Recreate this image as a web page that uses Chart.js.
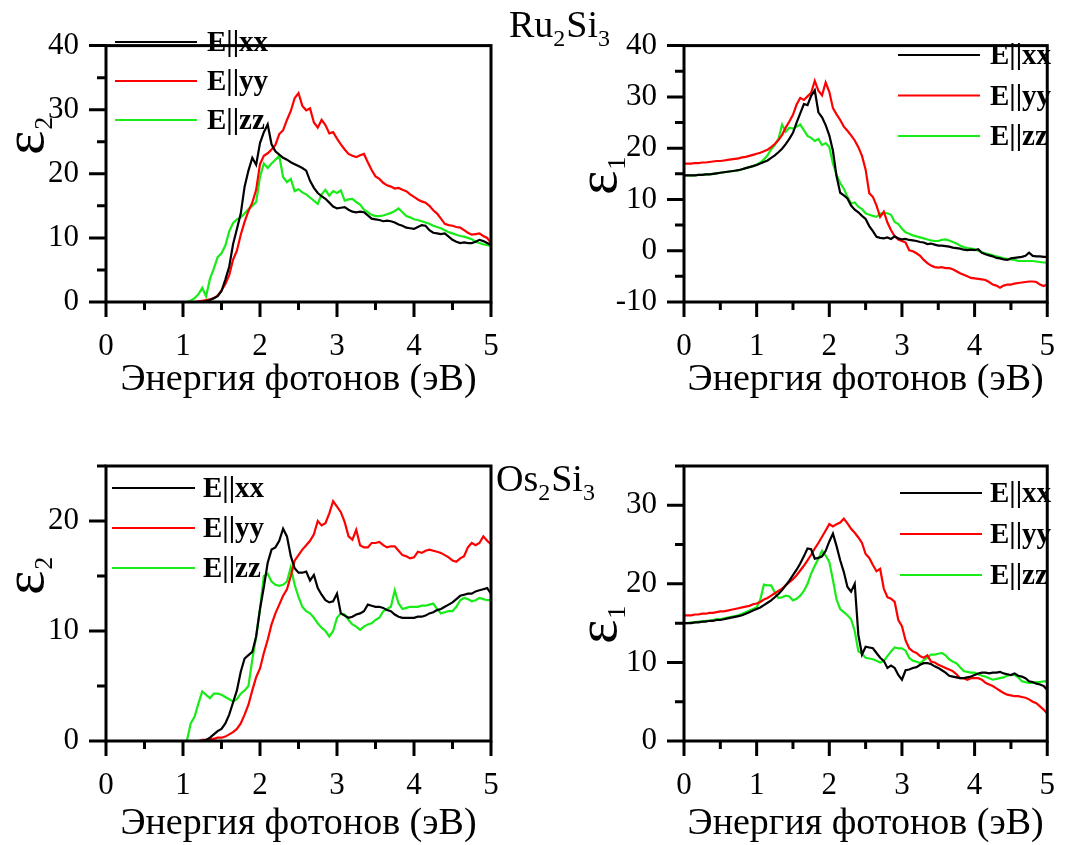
<!DOCTYPE html>
<html>
<head>
<meta charset="utf-8">
<script src="https://cdn.jsdelivr.net/npm/chart.js@4.4.1/dist/chart.umd.min.js"></script>
<style>
  html, body { margin: 0; padding: 0; background: #fff; overflow: hidden; }
  #wrap { position: relative; width: 1081px; height: 845px; }
  #wrap canvas { position: absolute; left: 0; top: 0; }
</style>
</head>
<body>
<div id="wrap">
  <canvas id="c1" width="1081" height="845"></canvas>
  <canvas id="c2" width="1081" height="845"></canvas>
  <canvas id="c3" width="1081" height="845"></canvas>
  <canvas id="c4" width="1081" height="845"></canvas>
</div>
<script>
// photon energy grid (eV)
const energy = [
  0, 0.05, 0.1, 0.15, 0.2, 0.25, 0.3, 0.35, 0.4, 0.45,
  0.5, 0.55, 0.6, 0.65, 0.7, 0.75, 0.8, 0.85, 0.9, 0.95,
  1, 1.05, 1.1, 1.15, 1.2, 1.25, 1.3, 1.35, 1.4, 1.45,
  1.5, 1.55, 1.6, 1.65, 1.7, 1.75, 1.8, 1.85, 1.9, 1.95,
  2, 2.05, 2.1, 2.15, 2.2, 2.25, 2.3, 2.35, 2.4, 2.45,
  2.5, 2.55, 2.6, 2.65, 2.7, 2.75, 2.8, 2.85, 2.9, 2.95,
  3, 3.05, 3.1, 3.15, 3.2, 3.25, 3.3, 3.35, 3.4, 3.45,
  3.5, 3.55, 3.6, 3.65, 3.7, 3.75, 3.8, 3.85, 3.9, 3.95,
  4, 4.05, 4.1, 4.15, 4.2, 4.25, 4.3, 4.35, 4.4, 4.45,
  4.5, 4.55, 4.6, 4.65, 4.7, 4.75, 4.8, 4.85, 4.9, 4.95,
  5
];

const seriesNames = ['E||xx', 'E||yy', 'E||zz'];
const xTicks = [0, 1, 2, 3, 4, 5];
const ruEps2Ticks = [0, 10, 20, 30, 40];
const ruEps1Ticks = [-10, 0, 10, 20, 30, 40];
const osEps2Ticks = [0, 10, 20];
const osEps1Ticks = [0, 10, 20, 30];

// Ru2Si3, eps2
const ruEps2Xx = [
  0, 0, 0, 0, 0, 0, 0, 0, 0, 0,
  0, 0, 0, 0, 0, 0, 0, 0, 0, 0,
  0, 0, 0, 0, 0, 0, 0.1, 0.3, 0.6, 0.9,
  1.7, 3.5, 5.5, 9, 11.4, 13.8, 18, 20.5, 22.5, 21.4,
  24.8, 26.5, 27.7, 24.6, 23.5, 23, 22.5, 22.2, 21.8, 21.5,
  21.2, 20.9, 20.5, 18.9, 17.8, 17, 16.5, 16.1, 15.5, 14.9,
  14.6, 14.7, 14.8, 14.4, 14.1, 14.0, 14.1, 14.0, 13.5, 13.0,
  12.9, 12.8, 12.6, 12.7, 12.6, 12.4, 12.1, 11.9, 11.6, 11.5,
  11.4, 11.7, 12.0, 11.9, 11.2, 10.8, 10.7, 10.6, 10.7, 10.2,
  9.7, 9.4, 9.2, 9.3, 9.2, 9.2, 9.4, 9.7, 9.5, 9.2,
  8.9
];
const ruEps2Yy = [
  0, 0, 0, 0, 0, 0, 0, 0, 0, 0,
  0, 0, 0, 0, 0, 0, 0, 0, 0, 0,
  0, 0, 0, 0, 0.1, 0.2, 0.3, 0.4, 0.6, 1.0,
  1.8, 2.8, 4.2, 6.6, 8.0, 10.5, 12.5, 14.2, 15.5, 17.5,
  21.5, 22.8, 23.2, 23.8, 24.5, 26.2, 26.8, 28.4, 29.8, 31.8,
  32.6, 30.6, 29.9, 30.2, 28.0, 27.2, 28.4, 27.6, 26.3, 26.5,
  25.5, 24.6, 23.8, 23.1, 22.8, 22.6, 22.9, 23.1, 21.8, 20.6,
  19.6, 19.2, 18.6, 18.2, 18.0, 17.7, 17.8, 17.5, 17.3, 16.8,
  16.4, 16.0, 15.7, 15.5, 15.0, 14.3, 13.8, 13.0, 12.2, 12.0,
  11.9, 11.7, 11.6, 11.2, 10.8, 10.5, 10.6, 10.7, 10.3, 10.0,
  9.2
];
const ruEps2Zz = [
  0, 0, 0, 0, 0, 0, 0, 0, 0, 0,
  0, 0, 0, 0, 0, 0, 0, 0, 0, 0,
  0, 0, 0.2, 0.6, 1.2, 2.2, 0.9, 3.6, 5.2, 7.0,
  7.6, 8.8, 11.0, 12.3, 12.9, 13.2, 13.8, 14.5, 15.0, 15.6,
  19.5, 21.6, 20.9, 21.6, 22.2, 22.8, 19.5, 18.7, 19.2, 17.3,
  17.6, 17.1, 16.8, 16.3, 15.8, 15.3, 16.8, 17.5, 16.6, 17.3,
  17.0, 17.4, 15.8, 16.0, 16.1, 15.6, 15.2, 14.4, 14.0, 13.6,
  13.4, 13.4, 13.5, 13.7, 13.9, 14.2, 14.6, 14.0, 13.4, 13.2,
  12.9, 12.8, 12.6, 12.4, 12.2, 11.9, 11.7, 11.5, 11.2, 10.9,
  10.7, 10.5, 10.3, 10.2, 10.0, 9.8, 9.4, 9.2, 9.0, 8.9,
  8.7
];

// Ru2Si3, eps1
const ruEps1Xx = [
  14.7, 14.7, 14.7, 14.7, 14.8, 14.8, 14.9, 14.9, 15.0, 15.1,
  15.2, 15.3, 15.4, 15.5, 15.6, 15.7, 15.9, 16.1, 16.3, 16.5,
  16.7, 17.0, 17.3, 17.6, 18.1, 18.6, 19.2, 19.9, 20.8, 21.8,
  23.0, 25.0, 26.8, 28.6, 28.4, 30.2, 31.3, 27.0, 26.0, 24.5,
  22.5, 19.5, 14.5, 11.3, 10.8, 10.2, 8.8, 8.0, 7.5, 6.8,
  6.2, 4.8, 3.8, 2.7, 2.5, 2.4, 2.6, 2.3, 2.8, 2.4,
  2.2, 2.3, 2.1, 2.0, 1.9, 1.7, 1.6, 1.3, 1.4, 1.2,
  1.0, 1.0, 0.9, 0.8, 0.6, 0.5, 0.4, 0.2, 0.1, 0.2,
  0.1, 0.3, -0.4, -0.7, -0.9, -1.1, -1.4, -1.5, -1.7, -1.8,
  -1.5, -1.4, -1.3, -1.2, -1.0, -0.4, -1.0, -1.1, -1.1, -1.2,
  -1.2
];
const ruEps1Yy = [
  17.0, 17.0, 17.0, 17.1, 17.1, 17.2, 17.2, 17.3, 17.4, 17.5,
  17.5, 17.6, 17.7, 17.8, 17.9, 18.0, 18.2, 18.3, 18.5, 18.7,
  18.9, 19.1, 19.4, 19.7, 20.2, 20.8, 21.6, 22.6, 24.0, 25.2,
  26.5, 28.5, 29.8, 29.4, 30.1, 30.8, 33.1, 31.2, 30.3, 32.8,
  31.0, 27.8, 26.6, 25.5, 24.2, 23.4, 22.5, 21.5, 20.2, 18.5,
  15.8, 11.2, 10.5, 8.8, 6.6, 7.6, 5.5, 4.0, 2.8, 2.2,
  1.9, 1.6, 0.1, -0.1, -0.5, -1.0, -1.8, -2.4, -2.9, -3.2,
  -3.3, -3.2, -3.4, -3.4, -3.6, -4.0, -4.4, -4.7, -5.0, -5.3,
  -5.4, -5.5, -5.6, -5.7, -6.1, -6.6, -6.8, -7.2, -6.8, -6.6,
  -6.6, -6.4, -6.3, -6.2, -6.1, -6.0, -6.0, -6.1, -6.6, -6.9,
  -6.6
];
const ruEps1Zz = [
  14.7, 14.7, 14.7, 14.7, 14.8, 14.8, 14.9, 14.9, 15.0, 15.1,
  15.2, 15.3, 15.4, 15.5, 15.6, 15.7, 15.9, 16.1, 16.3, 16.5,
  16.8, 17.2, 17.8, 18.6, 19.8, 20.6, 21.8, 24.6, 23.2, 24.0,
  23.8, 24.2, 24.6, 23.5, 22.4, 22.0, 21.4, 21.8, 20.6, 21.0,
  20.2, 17.0, 14.8, 13.2, 12.1, 10.5, 9.2, 9.4, 8.6, 8.1,
  7.3, 7.0, 6.8, 6.6, 7.2, 7.4, 7.3, 7.0, 5.6, 5.2,
  4.3, 3.6, 3.3, 3.0, 2.8, 2.6, 2.4, 2.2, 2.0, 1.9,
  1.9, 2.1, 2.2, 2.0, 1.7, 1.4, 1.0, 0.7, 0.5, 0.4,
  0.3, 0.0, -0.3, -0.5, -0.7, -0.9, -1.1, -1.3, -1.5, -1.6,
  -1.7, -1.8, -2.0, -2.0, -2.0, -2.0, -2.0, -2.1, -2.2, -2.3,
  -2.3
];

// Os2Si3, eps2
const osEps2Xx = [
  0, 0, 0, 0, 0, 0, 0, 0, 0, 0,
  0, 0, 0, 0, 0, 0, 0, 0, 0, 0,
  0, 0, 0, 0, 0, 0, 0.1, 0.3, 0.6, 0.9,
  1.1, 1.6, 2.4, 3.5, 4.6, 6.3, 7.5, 7.8, 8.1, 9.5,
  12.0, 14.0, 16.2, 17.4, 17.6, 18.2, 19.3, 18.6, 16.8, 15.7,
  15.3, 15.3, 15.4, 14.6, 15.1, 13.9, 13.3, 12.8, 12.6, 12.7,
  13.4, 11.6, 11.4, 11.2, 11.3, 11.5, 11.6, 11.8, 12.4, 12.3,
  12.2, 12.2, 12.1, 11.9, 11.8, 11.5, 11.3, 11.2, 11.2, 11.2,
  11.2, 11.3, 11.3, 11.4, 11.6, 11.7, 11.9, 12.0, 12.2, 12.4,
  12.6, 12.9, 13.2, 13.3, 13.4, 13.4, 13.6, 13.7, 13.8, 13.9,
  13.4
];
const osEps2Yy = [
  0, 0, 0, 0, 0, 0, 0, 0, 0, 0,
  0, 0, 0, 0, 0, 0, 0, 0, 0, 0,
  0, 0, 0, 0, 0, 0.1, 0.1, 0.2, 0.2, 0.3,
  0.3, 0.4, 0.6, 0.8, 1.1, 1.6, 2.4, 3.3, 4.6, 5.8,
  6.6, 8.0, 9.2, 10.6, 11.6, 12.4, 13.2, 13.8, 15.0, 16.4,
  16.9, 17.4, 17.8, 18.2, 18.8, 20.0, 19.6, 19.8, 20.7, 21.8,
  21.3, 20.8, 19.9, 18.6, 18.3, 19.2, 17.8, 17.6, 17.6, 18.0,
  18.0, 18.1, 17.8, 17.6, 17.7, 17.7, 17.3, 16.9, 16.8, 16.6,
  16.7, 17.2, 17.1, 17.3, 17.4, 17.3, 17.2, 17.1, 16.9, 16.7,
  16.4, 16.3, 16.6, 16.8, 17.6, 18.0, 17.8, 18.0, 18.6, 18.2,
  17.9
];
const osEps2Zz = [
  0, 0, 0, 0, 0, 0, 0, 0, 0, 0,
  0, 0, 0, 0, 0, 0, 0, 0, 0, 0,
  0, 0, 1.6, 2.2, 3.4, 4.5, 4.2, 3.9, 4.3, 4.3,
  4.2, 4.0, 3.8, 3.6, 3.8, 4.3, 4.6, 5.0, 7.4, 9.5,
  12.0, 15.0, 15.2, 14.5, 14.2, 14.1, 14.2, 14.5, 15.8, 14.2,
  13.1, 12.2, 11.8, 11.6, 11.2, 10.7, 10.3, 10.0, 9.5, 10.0,
  11.2, 11.6, 11.5, 11.0, 10.6, 10.4, 10.1, 10.4, 10.6, 10.7,
  11.0, 11.2, 11.8, 12.0, 12.2, 13.7, 12.5, 12.0, 12.1, 12.2,
  12.2, 12.2, 12.3, 12.3, 12.4, 12.5, 12.0, 11.6, 11.7, 11.8,
  11.8, 12.2, 12.8, 13.0, 12.9, 12.7, 12.8, 13.0, 12.9, 12.8,
  12.8
];

// Os2Si3, eps1
const osEps1Xx = [
  15.0, 15.0, 15.0, 15.1, 15.1, 15.2, 15.2, 15.3, 15.3, 15.4,
  15.4, 15.5, 15.6, 15.7, 15.8, 15.9, 16.0, 16.2, 16.4, 16.6,
  16.8, 17.0, 17.3, 17.6, 17.9, 18.3, 18.7, 19.2, 19.8, 20.4,
  21.1, 21.8, 22.6, 23.5, 24.5, 24.4, 23.2, 23.3, 23.5, 24.2,
  25.4, 26.4, 24.8, 23.0, 21.5, 19.6, 19.0, 20.0, 13.5, 11.0,
  12.0, 11.9, 11.8, 11.2, 10.6, 10.2, 9.3, 9.6, 9.3, 8.4,
  7.8, 9.0, 9.1, 9.3, 9.4, 9.7, 9.9, 9.9, 9.8, 9.5,
  9.3, 9.0, 8.7, 8.3, 8.2, 8.1, 8.0, 8.0, 8.1, 8.2,
  8.4, 8.6, 8.7, 8.7, 8.6, 8.7, 8.7, 8.8, 8.6, 8.5,
  8.4, 8.6, 8.3, 8.2, 8.0, 7.6, 7.5, 7.3, 7.2, 7.0,
  6.5
];
const osEps1Yy = [
  16.0, 16.0, 16.0, 16.1, 16.1, 16.2, 16.2, 16.3, 16.3, 16.4,
  16.5, 16.5, 16.6, 16.7, 16.8, 16.9, 17.0, 17.1, 17.2, 17.4,
  17.5, 17.7, 18.0, 18.2, 18.5, 18.8, 19.1, 19.4, 19.8, 20.2,
  20.6, 21.1, 21.7, 22.3, 23.0, 23.7, 24.5, 25.2, 26.0, 26.8,
  27.6, 27.3, 27.6, 27.8, 28.3, 27.7, 27.0, 26.5, 25.9, 25.2,
  23.8, 23.3, 22.4, 21.6, 21.9, 19.4, 18.3, 18.1, 17.7, 15.4,
  14.6, 12.8, 11.8, 11.4, 11.2, 10.8, 10.6, 10.9, 10.1, 10.0,
  9.7, 9.5, 9.3, 9.1, 8.9, 8.5, 8.0, 8.0, 7.8, 8.0,
  8.0, 8.0, 7.8, 7.4, 7.2, 7.0, 6.7, 6.4, 6.1, 5.9,
  5.8, 5.7, 5.7, 5.6, 5.5, 5.3, 5.0, 4.8, 4.4, 4.0,
  3.5
];
const osEps1Zz = [
  15.0, 15.0, 15.1, 15.1, 15.2, 15.2, 15.3, 15.3, 15.4, 15.5,
  15.5, 15.6, 15.7, 15.8, 15.9, 16.0, 16.2, 16.4, 16.6, 16.8,
  17.0, 18.0, 19.9, 19.8, 19.8, 18.9, 18.2, 18.3, 18.5, 18.4,
  17.9, 18.1, 18.5, 19.1, 20.0, 21.3, 22.3, 23.2, 24.2, 23.6,
  22.8, 20.5, 18.0, 16.8, 16.4, 16.0, 15.5, 14.0, 11.4, 11.1,
  10.6, 10.5, 10.4, 10.2, 10.0, 10.2, 10.8, 11.4, 11.9, 11.8,
  11.8, 11.5, 10.6, 10.2, 10.1, 9.9, 10.3, 10.6, 11.0, 11.0,
  11.1, 11.2, 10.9, 10.4, 10.1, 9.9, 9.4, 8.9, 8.8, 8.7,
  8.7, 8.5, 8.3, 8.2, 8.0, 7.8, 7.9, 8.0, 8.1, 8.3,
  8.4, 8.4, 8.1, 7.6, 7.5, 7.4, 7.4, 7.5, 7.5, 7.6,
  7.6
];

const colors = ['#000000', '#ff0000', '#18ec18'];
const serif = "'Liberation Serif', 'Times New Roman', serif";
const W = 1081, H = 845;

// frame, outward ticks, legend, axis labels and compound names
const decor = {
  id: 'decor',
  afterDraw(chart, args, o) {
    const { ctx, chartArea: a, scales: { x, y } } = chart;
    ctx.save();
    ctx.strokeStyle = '#000';
    ctx.fillStyle = '#000';
    ctx.lineWidth = 3;
    ctx.strokeRect(a.left, a.top, a.right - a.left, a.bottom - a.top);

    const xMinor = xTicks.slice(1).map((v, i) => (v + xTicks[i]) / 2);
    const yt = o.yTicks;
    const yMinor = yt.slice(1).map((v, i) => (v + yt[i]) / 2);
    const half = (yt[1] - yt[0]) / 2;
    if (yt[yt.length - 1] + half <= y.max) yMinor.push(yt[yt.length - 1] + half);

    ctx.beginPath();
    xTicks.forEach(v => { const p = x.getPixelForValue(v); ctx.moveTo(p, a.bottom); ctx.lineTo(p, a.bottom + 15); });
    xMinor.forEach(v => { const p = x.getPixelForValue(v); ctx.moveTo(p, a.bottom); ctx.lineTo(p, a.bottom + 8); });
    yt.forEach(v => { const p = y.getPixelForValue(v); ctx.moveTo(a.left, p); ctx.lineTo(a.left - 17, p); });
    yMinor.forEach(v => { const p = y.getPixelForValue(v); ctx.moveTo(a.left, p); ctx.lineTo(a.left - 9, p); });
    ctx.stroke();

    // legend
    ctx.font = 'bold 29px ' + serif;
    ctx.textBaseline = 'middle';
    ctx.textAlign = 'left';
    ctx.lineWidth = 2.2;
    chart.data.datasets.forEach((ds, i) => {
      const ry = o.legend.y + i * o.legend.gap;
      ctx.strokeStyle = ds.borderColor;
      ctx.beginPath();
      ctx.moveTo(o.legend.x1, ry);
      ctx.lineTo(o.legend.x2, ry);
      ctx.stroke();
      ctx.fillText(ds.label, o.legend.tx, ry + 2);
    });

    // x title
    ctx.textBaseline = 'alphabetic';
    ctx.textAlign = 'center';
    ctx.font = '38px ' + serif;
    ctx.fillText('Энергия фотонов (эВ)', (a.left + a.right) / 2, a.bottom + o.xTitleDy);

    // y title (epsilon with subscript), rotated
    ctx.save();
    ctx.translate(o.yLab.x, o.yLab.y);
    ctx.rotate(-Math.PI / 2);
    ctx.textAlign = 'left';
    ctx.font = '58px ' + serif;
    ctx.fillText('ε', 0, 0);
    const ew = ctx.measureText('ε').width;
    ctx.font = '26px ' + serif;
    ctx.fillText(o.yLab.sub, ew + 1, 9);
    ctx.restore();

    // compound name
    if (o.formula) {
      ctx.textAlign = 'left';
      let fx = o.formula.x;
      o.formula.parts.forEach(([txt, sub]) => {
        ctx.font = (sub ? '24px ' : '38px ') + serif;
        ctx.fillText(txt, fx, o.formula.y + (sub ? 9 : 0));
        fx += ctx.measureText(txt).width + (sub ? 1 : 0);
      });
    }
    ctx.restore();
  }
};

function makePanel(id, box, yMin, yMax, yTicks, series, extra) {
  const datasets = series.map((vals, i) => ({
    label: seriesNames[i],
    data: energy.map((e, k) => ({ x: e, y: vals[k] })),
    borderColor: colors[i],
    borderWidth: 2.2,
    pointRadius: 0,
    tension: 0,
    fill: false
  }));
  const tickFont = { family: serif, size: 31 };
  return new Chart(document.getElementById(id), {
    type: 'line',
    data: { datasets },
    plugins: [decor],
    options: {
      responsive: false,
      animation: false,
      devicePixelRatio: 1,
      layout: { padding: { left: box.l - 100, top: box.t, right: W - box.r, bottom: H - box.b - 60 } },
      plugins: {
        legend: { display: false },
        tooltip: { enabled: false },
        decor: Object.assign({ yTicks }, extra)
      },
      scales: {
        x: {
          type: 'linear', min: 0, max: 5,
          grid: { display: false, drawTicks: false },
          border: { display: false },
          ticks: { font: tickFont, color: '#000', padding: 26, autoSkip: false, maxRotation: 0 },
          afterBuildTicks: s => { s.ticks = xTicks.map(v => ({ value: v })); },
          afterFit: s => { s.height = 60; }
        },
        y: {
          type: 'linear', min: yMin, max: yMax,
          grid: { display: false, drawTicks: false },
          border: { display: false },
          ticks: { font: tickFont, color: '#000', padding: 27, autoSkip: false },
          afterBuildTicks: s => { s.ticks = yTicks.map(v => ({ value: v })); },
          afterFit: s => { s.width = 100; }
        }
      }
    }
  });
}

makePanel('c1', { l: 106, t: 27, r: 491, b: 302 }, 0, 40, ruEps2Ticks,
  [ruEps2Xx, ruEps2Yy, ruEps2Zz], {
    legend: { x1: 115, x2: 197, tx: 207, y: 42, gap: 39 },
    xTitleDy: 88,
    yLab: { x: 43, y: 155, sub: '2' }
  });

makePanel('c2', { l: 684, t: 27, r: 1068, b: 302 }, -10, 40, ruEps1Ticks,
  [ruEps1Xx, ruEps1Yy, ruEps1Zz], {
    legend: { x1: 898, x2: 980, tx: 990, y: 55, gap: 40.5 },
    xTitleDy: 88,
    yLab: { x: 616, y: 195, sub: '1' },
    formula: { x: 509, y: 37, parts: [['Ru', false], ['2', true], ['Si', false], ['3', true]] }
  });

makePanel('c3', { l: 106, t: 466, r: 491, b: 741 }, 0, 25, osEps2Ticks,
  [osEps2Xx, osEps2Yy, osEps2Zz], {
    legend: { x1: 112, x2: 195, tx: 203, y: 488, gap: 40 },
    xTitleDy: 93,
    yLab: { x: 43, y: 595, sub: '2' }
  });

makePanel('c4', { l: 684, t: 466, r: 1068, b: 741 }, 0, 35, osEps1Ticks,
  [osEps1Xx, osEps1Yy, osEps1Zz], {
    legend: { x1: 900, x2: 982, tx: 990, y: 493, gap: 41 },
    xTitleDy: 93,
    yLab: { x: 616, y: 644, sub: '1' },
    formula: { x: 496, y: 491, parts: [['Os', false], ['2', true], ['Si', false], ['3', true]] }
  });
</script>
</body>
</html>
